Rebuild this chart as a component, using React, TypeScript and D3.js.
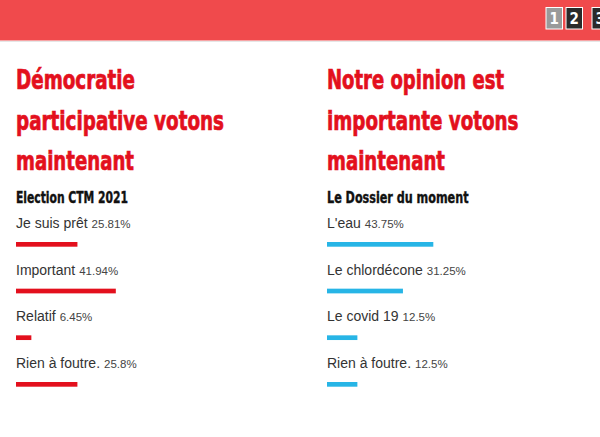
import React from "react";
import * as d3 from "d3";

const leftTitle = ["Démocratie", "participative votons", "maintenant"];
const leftSubtitle = "Election CTM 2021";
const leftLabels = ["Je suis prêt", "Important", "Relatif", "Rien à foutre."];
const leftValues = [25.81, 41.94, 6.45, 25.8];

const rightTitle = ["Notre opinion est", "importante votons", "maintenant"];
const rightSubtitle = "Le Dossier du moment";
const rightLabels = ["L'eau", "Le chlordécone", "Le covid 19", "Rien à foutre."];
const rightValues = [43.75, 31.25, 12.5, 12.5];

const pages = ["1", "2", "3"];

const W = 600;
const H = 437;
const TITLE_FONT = "'Liberation Sans Narrow', 'DejaVu Sans Condensed', 'Arial Narrow', sans-serif";
const BODY_FONT = "'Liberation Sans', Arial, sans-serif";

type PanelProps = {
  x: number;
  title: string[];
  titleWidths: number[];
  subtitle: string;
  subtitleWidth: number;
  labels: string[];
  values: number[];
  color: string;
  barMax: number;
};

function Panel({ x, title, titleWidths, subtitle, subtitleWidth, labels, values, color, barMax }: PanelProps) {
  const wScale = d3.scaleLinear().domain([0, 100]).range([0, barMax]);
  const yScale = d3.scaleLinear().domain([0, labels.length - 1]).range([228, 368]);
  const titleY = d3.scaleLinear().domain([0, 2]).range([89, 170]);
  return (
    <g>
      {title.map((t, i) => (
        <text
          key={i}
          x={x}
          y={titleY(i)}
          fill="#e3101d"
          stroke="#e3101d"
          strokeWidth={0.7}
          fontFamily={TITLE_FONT}
          fontWeight="bold"
          fontSize={26.5}
          textLength={titleWidths[i]}
          lengthAdjust="spacingAndGlyphs"
        >
          {t}
        </text>
      ))}
      <text
        x={x}
        y={203}
        fill="#111"
        stroke="#111"
        strokeWidth={0.4}
        fontFamily={TITLE_FONT}
        fontWeight="bold"
        fontSize={16}
        textLength={subtitleWidth}
        lengthAdjust="spacingAndGlyphs"
      >
        {subtitle}
      </text>
      {labels.map((l, i) => (
        <g key={i}>
          <text x={x} y={yScale(i)} fontFamily={BODY_FONT} fill="#333">
            <tspan fontSize={14}>{l}</tspan>
            <tspan fontSize={11.5} dx={4} fill="#444">
              {values[i] + "%"}
            </tspan>
          </text>
          <rect x={x} y={yScale(i) + 14} width={wScale(values[i])} height={4.7} fill={color} />
        </g>
      ))}
    </g>
  );
}

export default function App() {
  const pageX = d3.scaleLinear().domain([0, 1]).range([546, 566]);
  return (
    <svg
      width={W}
      height={H}
      viewBox={`0 0 ${W} ${H}`}
      style={{ position: "absolute", left: 0, top: 0, background: "#fff" }}
    >
      <rect x={0} y={0} width={W} height={H} fill="#fff" />
      <rect x={0} y={41} width={W} height={1} fill="#e6e6e6" />
      <rect x={0} y={0} width={W} height={40.5} fill="#f04a4c" />
      {pages.map((p, i) => (
        <g key={p}>
          <rect
            x={pageX(i) + (i === 2 ? 6 : 0)}
            y={7.5}
            width={16.5}
            height={21.5}
            fill={i === 0 ? "#9a9a9a" : "#2a2a2a"}
            stroke="#fff"
            strokeWidth={1}
          />
          <text
            x={pageX(i) + (i === 2 ? 6 : 0) + 8.25}
            y={24}
            textAnchor="middle"
            fill="#fff"
            fontFamily={TITLE_FONT}
            fontWeight="bold"
            fontSize={15}
          >
            {p}
          </text>
        </g>
      ))}
      <Panel
        x={16}
        title={leftTitle}
        titleWidths={[119, 208, 118]}
        subtitle={leftSubtitle}
        subtitleWidth={112}
        labels={leftLabels}
        values={leftValues}
        color="#e3101d"
        barMax={238}
      />
      <Panel
        x={327}
        title={rightTitle}
        titleWidths={[177, 191.5, 118]}
        subtitle={rightSubtitle}
        subtitleWidth={141.5}
        labels={rightLabels}
        values={rightValues}
        color="#27b5e6"
        barMax={243}
      />
    </svg>
  );
}
